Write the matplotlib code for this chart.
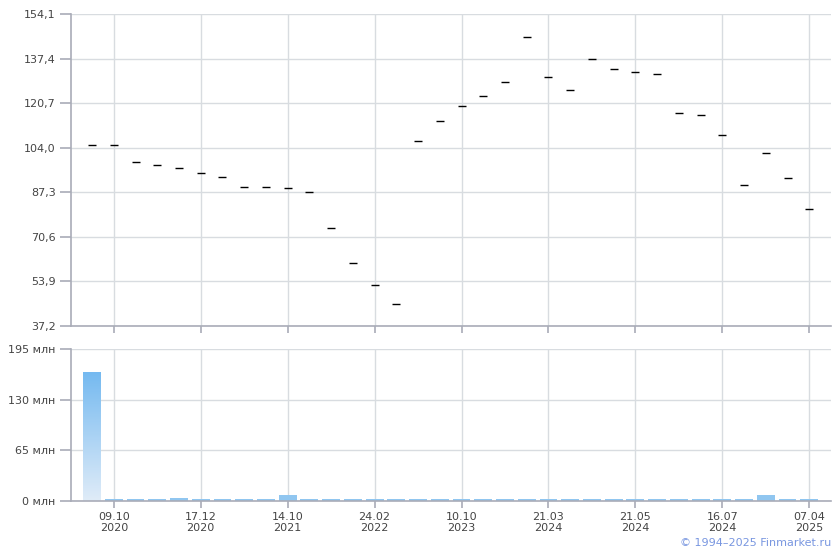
import numpy as np
import matplotlib
matplotlib.use("Agg")
import matplotlib.pyplot as plt
from matplotlib.colors import LinearSegmentedColormap
from matplotlib.ticker import FixedLocator, FuncFormatter

# price per trading day (categorical x axis, 34 points)
prices = [105.2, 105.2, 98.5, 97.5, 96.4, 94.4, 93.0, 89.3, 89.3, 88.8,
          87.3, 73.8, 60.7, 52.5, 45.3, 106.4, 113.9, 119.5, 123.3, 128.5,
          145.4, 130.4, 125.5, 137.1, 133.4, 132.3, 131.6, 116.9, 116.1, 108.7,
          89.9, 101.9, 92.5, 80.9]
# volume, mln
volumes = [165.5, 2.0, 2.0, 2.0, 4.0, 2.0, 2.0, 2.0, 2.0, 8.0,
           2.0, 2.0, 2.0, 2.0, 2.0, 2.0, 2.0, 2.0, 2.0, 2.0,
           2.0, 2.0, 2.0, 2.0, 2.0, 2.0, 2.0, 2.0, 2.0, 2.0,
           2.0, 8.0, 2.0, 2.0]
tick_idx = [1, 5, 9, 13, 17, 21, 25, 29, 33]
tick_labels = ['09.10\n2020', '17.12\n2020', '14.10\n2021', '24.02\n2022',
               '10.10\n2023', '21.03\n2024', '21.05\n2024', '16.07\n2024',
               '07.04\n2025']
price_ticks = [37.2, 53.9, 70.6, 87.3, 104.0, 120.7, 137.4, 154.1]
vol_ticks = [0, 65, 130, 195]

grid_c = '#d8dce0'
axis_c = '#a9acb8'
text_c = '#444444'


def style(ax):
    for s in ['top', 'right']:
        ax.spines[s].set_visible(False)
    for s in ['left', 'bottom']:
        ax.spines[s].set_color(axis_c)
        ax.spines[s].set_linewidth(1.2)
    ax.grid(True, color=grid_c, linewidth=1.0)
    ax.set_axisbelow(True)
    ax.tick_params(axis='y', colors=axis_c, labelcolor=text_c, length=8,
                   width=1.2, labelsize=8, pad=3)
    ax.tick_params(axis='x', colors=axis_c, labelcolor=text_c, length=5,
                   width=1.2, labelsize=8, pad=3)
    ax.set_xlim(-0.97, 34.0)
    ax.xaxis.set_major_locator(FixedLocator(tick_idx))


def main():
    fig = plt.figure(figsize=(8.4, 5.5), dpi=100)
    x = np.arange(len(prices))

    ax1 = fig.add_axes([71 / 840, 224 / 550, 760 / 840, 312 / 550])
    style(ax1)
    ax1.plot(x, prices, linestyle='none', marker='_', markersize=6,
             markeredgewidth=1.0, color='black')
    ax1.set_ylim(37.2, 154.1)
    ax1.yaxis.set_major_locator(FixedLocator(price_ticks))
    ax1.yaxis.set_major_formatter(FuncFormatter(lambda v, p: f'{v:.1f}'.replace('.', ',')))
    ax1.set_xticklabels([])

    ax2 = fig.add_axes([71 / 840, 49 / 550, 760 / 840, 152 / 550])
    style(ax2)
    ax2.set_ylim(0, 195)
    ax2.yaxis.set_major_locator(FixedLocator(vol_ticks))
    ax2.yaxis.set_major_formatter(FuncFormatter(lambda v, p: f'{int(v)} млн'))
    ax2.set_xticklabels(tick_labels, linespacing=1.15)

    cmap = LinearSegmentedColormap.from_list('vol', ['#e0ecf8', '#74b9f0'])
    grad = np.linspace(0, 1, 256).reshape(-1, 1)
    bars = ax2.bar(x, volumes, width=0.82, color='#90c6f0', edgecolor='none')
    for b in bars:
        x0, w, h = b.get_x(), b.get_width(), b.get_height()
        if h < 20:
            continue
        im = ax2.imshow(grad, cmap=cmap, origin='lower', aspect='auto',
                        extent=(x0, x0 + w, 0, h), zorder=2)
        im.set_clip_path(b)
    ax2.set_xlim(-0.97, 34.0)
    ax2.set_ylim(0, 195)

    fig.text(831 / 840, 7 / 550, '© 1994–2025 Finmarket.ru', ha='right',
             va='center', fontsize=8, color='#7896e0')

    fig.savefig('out.png', dpi=100)


if __name__ == '__main__':
    main()
